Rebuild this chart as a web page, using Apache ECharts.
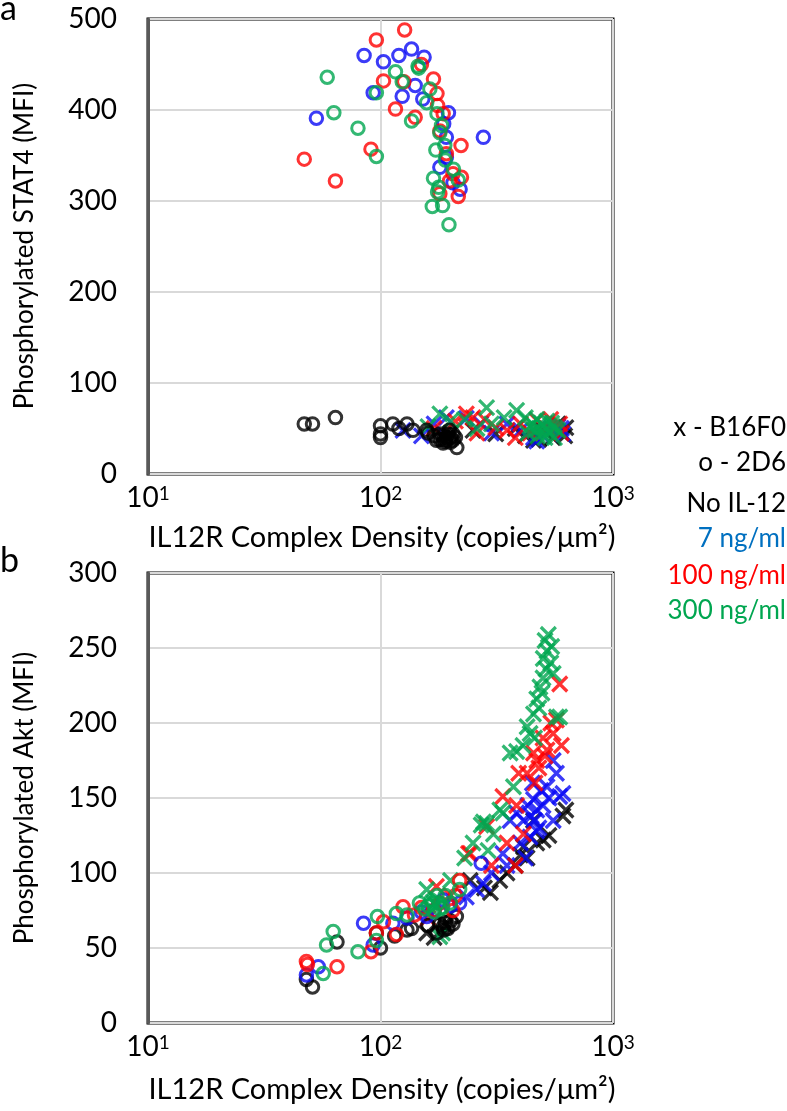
<!DOCTYPE html>
<html>
<head>
<meta charset="utf-8">
<script src="https://cdn.jsdelivr.net/npm/echarts@6/dist/echarts.min.js"></script>
<style>
html,body{margin:0;padding:0;background:#fff;}
#chart{width:787px;height:1111px;}
</style>
</head>
<body>
<div id="chart"></div>
<script>
// ---------- data (x = IL12R complex density, y = MFI) ----------
const xTickExp = ['1', '2', '3'];
const stat4Ticks = [0, 100, 200, 300, 400, 500];
const aktTicks = [0, 50, 100, 150, 200, 250, 300];

const legendLines = ['x - B16F0', 'o - 2D6', 'No IL-12', '7 ng/ml', '100 ng/ml', '300 ng/ml'];

// Panel a: phosphorylated STAT4
const stat4_B16_none = [[627,51],[455,37],[313,44],[600,45],[550,40],[500,48],[420,42],[380,50],[250,48],[200,45],[580,55],[480,38],[620,42]];
const stat4_B16_7 = [[125,48],[192,62],[234,61],[455,40],[610,44],[150,42],[170,55],[300,45],[350,55],[400,48],[500,42],[540,50],[580,52],[270,55],[470,36],[600,50]];
const stat4_B16_100 = [[234,66],[313,51],[470,59],[210,58],[260,45],[350,48],[400,55],[440,45],[520,50],[600,45],[280,60],[170,50],[540,60],[380,40],[590,55],[250,62]];
const stat4_B16_300 = [[180,66],[286,73],[385,70],[160,52],[230,60],[300,55],[340,62],[420,62],[450,55],[480,50],[500,45],[520,58],[550,52],[580,48],[470,60],[430,45],[510,40],[560,40],[260,50],[200,58],[460,48],[490,56],[530,46],[545,56],[505,52],[475,42],[565,50],[440,52]];
const stat4_2D6_none = [[47,55],[51,55],[64,62],[100,53],[100,44],[100,40],[113,55],[130,55],[138,48],[158,48],[180,44],[192,40],[205,37],[213,29],[174,37],[198,48],[186,34],[170,42],[200,40],[190,36],[180,38],[205,44],[120,50],[160,45],[195,44],[185,42],[210,40],[188,38],[200,35]];
const stat4_2D6_7 = [[85,460],[103,453],[120,460],[136,467],[154,458],[93,419],[124,415],[141,427],[53,391],[277,370],[152,412],[196,397],[192,370],[192,348],[220,313],[180,337],[205,320],[187,385]];
const stat4_2D6_100 = [[127,488],[96,477],[103,432],[116,401],[47,346],[64,322],[91,357],[126,431],[141,392],[150,450],[169,434],[175,418],[180,377],[222,361],[223,326],[216,305],[180,308],[186,396],[176,405],[192,352],[205,330],[198,322]];
const stat4_2D6_300 = [[59,436],[63,397],[80,380],[96,349],[96,419],[116,442],[124,431],[146,446],[136,388],[163,423],[158,408],[175,396],[180,375],[173,356],[189,361],[206,335],[169,325],[216,323],[167,294],[185,295],[197,274],[176,310],[145,448],[183,383],[190,345],[178,315]];

// Panel b: phosphorylated Akt
const akt_B16_none = [[627,142],[609,138],[501,122],[470,120],[455,135],[412,117.5],[427,110],[158,60],[170,57],[326,95],[297,87],[243,95],[350,100],[380,105],[400,112],[530,125],[280,90],[190,65]];
const akt_B16_7 = [[553,175],[571,166.5],[520,157.5],[590,151],[455,149],[470,142],[385,140],[412,135],[553,135],[609,153],[361,135],[336,113],[440,124],[259,89],[277,93],[234,84],[450,160],[480,130],[500,145],[430,145],[400,120],[350,105],[300,100],[530,150],[460,135],[420,110],[445,138],[470,128],[490,155]];
const akt_B16_100 = [[590,226],[571,202],[553,193],[520,182],[455,180],[427,166.5],[393,166.5],[462,160],[336,151],[385,145],[243,113],[286,131],[412,126],[239,113],[174,91],[500,190],[540,200],[480,170],[600,185],[350,120],[300,105],[200,85],[160,70],[380,105],[510,178],[470,175]];
const akt_B16_300 = [[527,259],[545,251],[501,243],[553,233],[485,224],[470,216],[455,206],[427,197.5],[571,204],[385,181],[361,180],[286,133],[326,142],[440,193],[590,204],[277,134],[336,140],[306,126],[373,157.5],[271,132],[290,115],[158,89],[180,57.5],[510,255],[500,230],[540,240],[460,190],[410,185],[480,210],[230,110],[250,120],[200,95],[170,80],[185,60],[520,248],[495,220],[515,236]];
const akt_2D6_none = [[48,29],[51,24],[65,54],[100,50],[130,62],[136,63],[186,64],[190,67],[212,71],[187,62],[96,60],[160,65],[200,68],[175,60],[205,66],[115,58],[195,63],[180,66]];
const akt_2D6_7 = [[48,32],[54,37.5],[84.5,66.5],[93,52],[113,66.5],[158,71],[271,106.5],[219,80],[186,82],[130,70],[170,75],[200,78],[150,74]];
const akt_2D6_100 = [[48,41],[48.5,39],[65,37.5],[91,47.5],[96,60],[117,59],[125,77.5],[103,67.5],[219,95],[205,75],[150,77],[140,72],[180,80],[210,85],[170,75]];
const akt_2D6_300 = [[62.6,61],[58.6,52],[56.7,33],[80,47.5],[96,55],[97,71],[117,73],[130,72],[147,80],[165,82],[178,80],[190,85],[219,89],[160,78],[170,74],[185,77],[175,85],[200,80],[155,76],[180,76],[168,80]];

// ---------- styling ----------
const FONT = 'Lato, "Open Sans", sans-serif';
const C = { none: '#000000', c7: '#0a0af5', c100: '#ff0000', c300: '#00a650' };
const LEGEND_COLORS = ['#000', '#000', '#000', '#0070c0', '#ff0000', '#00a650'];
const XPATH = 'path://M0,0L10,10M10,0L0,10';

function xSeries(data, color, gi) {
  return { type: 'scatter', xAxisIndex: gi, yAxisIndex: gi, data: data, symbol: XPATH, symbolSize: 15,
    itemStyle: { color: 'rgba(0,0,0,0)', borderColor: color, borderWidth: 3.2 }, silent: true };
}
function oSeries(data, color, gi) {
  return { type: 'scatter', xAxisIndex: gi, yAxisIndex: gi, data: data, symbol: 'circle', symbolSize: 12.5,
    itemStyle: { color: 'rgba(0,0,0,0)', borderColor: color, borderWidth: 3 }, silent: true };
}

function xAxisCfg(gi) {
  return {
    gridIndex: gi, type: 'log', logBase: 10, min: 10, max: 1000,
    axisLine: { show: false }, axisTick: { show: false },
    splitLine: { show: true, lineStyle: { color: '#d9d9d9', width: 2 } },
    axisLabel: {
      margin: 10, color: '#000', fontFamily: FONT, fontSize: 28,
      formatter: function (v) { const i = Math.round(Math.log10(v)) - 1; return '10{s|' + xTickExp[i] + '}'; },
      rich: { s: { fontSize: 19, verticalAlign: 'top', fontFamily: FONT, color: '#000' } }
    }
  };
}
function yAxisCfg(gi, ticks) {
  return {
    gridIndex: gi, type: 'value', min: ticks[0], max: ticks[ticks.length - 1], interval: ticks[1] - ticks[0],
    axisLine: { show: true, lineStyle: { color: '#595959', width: 3 } }, axisTick: { show: false },
    splitLine: { show: true, lineStyle: { color: '#d9d9d9', width: 2 } },
    axisLabel: { margin: 31, color: '#000', fontFamily: FONT, fontSize: 28 }
  };
}

const chart = echarts.init(document.getElementById('chart'), null, { renderer: 'canvas' });

const graphics = [];
function txt(x, y, text, size, color, align, rot) {
  graphics.push({ type: 'text', x: x, y: y, rotation: rot || 0, silent: true,
    style: { text: text, fill: color, font: size + 'px ' + FONT, align: align || 'center', verticalAlign: 'middle' } });
}
txt(0, 9, 'a', 34, '#000', 'left');
txt(0, 561, 'b', 34, '#000', 'left');
txt(25, 246, 'Phosphorylated STAT4 (MFI)', 26, '#000', 'center', Math.PI / 2);
txt(25, 798, 'Phosphorylated Akt (MFI)', 26, '#000', 'center', Math.PI / 2);
txt(382, 538, 'IL12R Complex Density (copies/\u03bcm\u00b2)', 29, '#000', 'center');
txt(382, 1090, 'IL12R Complex Density (copies/\u03bcm\u00b2)', 29, '#000', 'center');
const legendY = [428, 463, 504, 539, 576, 611];
legendLines.forEach(function (t, i) { txt(786, legendY[i], t, 26, LEGEND_COLORS[i], 'right'); });

chart.setOption({
  animation: false,
  backgroundColor: '#fff',
  grid: [
    { left: 148, top: 19, width: 465, height: 455, show: true, borderColor: '#000', borderWidth: 3, backgroundColor: 'rgba(0,0,0,0)' },
    { left: 148, top: 573, width: 465, height: 450, show: true, borderColor: '#000', borderWidth: 3, backgroundColor: 'rgba(0,0,0,0)' }
  ],
  xAxis: [xAxisCfg(0), xAxisCfg(1)],
  yAxis: [yAxisCfg(0, stat4Ticks), yAxisCfg(1, aktTicks)],
  series: [
    xSeries(stat4_B16_none, C.none, 0), xSeries(stat4_B16_7, C.c7, 0), xSeries(stat4_B16_100, C.c100, 0), xSeries(stat4_B16_300, C.c300, 0),
    oSeries(stat4_2D6_none, C.none, 0), oSeries(stat4_2D6_7, C.c7, 0), oSeries(stat4_2D6_100, C.c100, 0), oSeries(stat4_2D6_300, C.c300, 0),
    xSeries(akt_B16_none, C.none, 1), xSeries(akt_B16_7, C.c7, 1), xSeries(akt_B16_100, C.c100, 1), xSeries(akt_B16_300, C.c300, 1),
    oSeries(akt_2D6_none, C.none, 1), oSeries(akt_2D6_7, C.c7, 1), oSeries(akt_2D6_100, C.c100, 1), oSeries(akt_2D6_300, C.c300, 1)
  ],
  graphic: graphics
});
</script>
</body>
</html>
